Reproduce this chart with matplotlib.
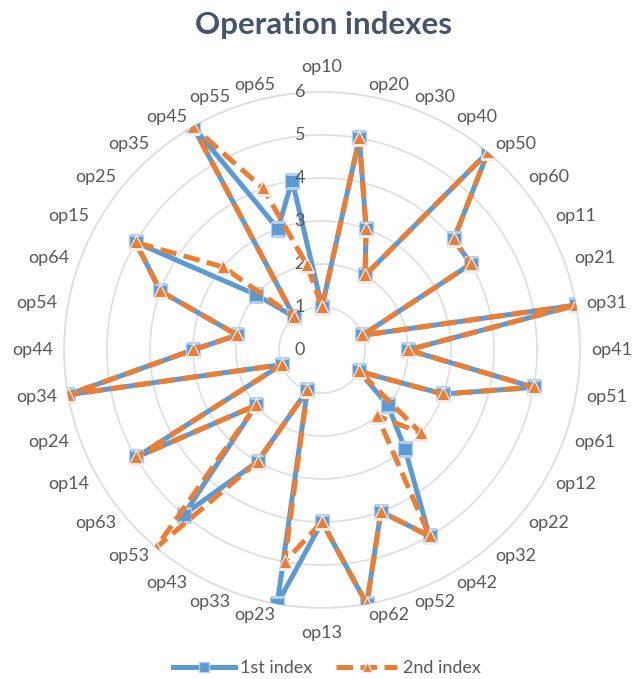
import numpy as np
import matplotlib
matplotlib.use("Agg")
import matplotlib.pyplot as plt
from matplotlib.transforms import offset_copy

plt.rcParams['font.family'] = ['Lato', 'DejaVu Sans']

# categories clockwise from the top
ops = ["op10", "op20", "op30", "op40", "op50", "op60",
       "op11", "op21", "op31", "op41", "op51", "op61",
       "op12", "op22", "op32", "op42", "op52", "op62",
       "op13", "op23", "op33", "op43", "op53", "op63",
       "op14", "op24", "op34", "op44", "op54", "op64",
       "op15", "op25", "op35", "op45", "op55", "op65"]
first_index = [1, 5, 3, 2, 6, 4, 4, 1, 6, 2, 5, 3,
               1, 2, 3, 5, 4, 6, 4, 6, 1, 3, 5, 2,
               5, 1, 6, 3, 2, 4, 5, 2, 1, 6, 3, 4]
second_index = [1, 5, 3, 2, 6, 4, 4, 1, 6, 2, 5, 3,
                1, 3, 2, 5, 4, 6, 4, 5, 1, 3, 6, 2,
                5, 1, 6, 3, 2, 4, 5, 3, 1, 6, 4, 2]
rings = [0, 1, 2, 3, 4, 5, 6]

blue = "#5B9BD5"
orange = "#ED7D31"
grey = "#595959"

fig = plt.figure(figsize=(6.35, 6.79), dpi=100)
ax = fig.add_axes([0.1008, 0.1046, 0.8126, 0.760], projection="polar")
ax.set_theta_zero_location("N")
ax.set_theta_direction(-1)

n = len(ops)
theta = np.linspace(0, 2 * np.pi, n, endpoint=False)
tt = np.append(theta, theta[0])

ax.plot(tt, np.append(first_index, first_index[0]), color=blue, lw=3.6,
        marker="s", ms=9.5, mfc=blue, mec="#B4D0EC", mew=0.9,
        label="1st index", zorder=3)
ax.plot(tt, np.append(second_index, second_index[0]), color=orange, lw=3.6,
        dashes=(3.3, 1.5), marker="^", ms=10, mfc=orange, mec="#EDEDED", mew=0.9,
        label="2nd index", zorder=4)

ax.set_ylim(0, 6)
ax.set_yticks(rings[1:])
ax.set_yticklabels([])
ax.set_xticks([])
ax.yaxis.grid(True, color="#DEDEDE", lw=1.2)
ax.xaxis.grid(False)
ax.spines["polar"].set_color("#DEDEDE")
ax.spines["polar"].set_linewidth(1.2)

# radial value labels, left of the vertical axis
tr = offset_copy(ax.transData, fig=fig, x=-17, y=0, units="dots")
for r in rings:
    ax.text(0, r, str(r), transform=tr, ha="right", va="center",
            fontsize=13, color=grey)

# category labels
for th, lab in zip(theta, ops):
    s, c = np.sin(th), np.cos(th)
    if abs(s) < 0.05:
        ha = "center"
        va = "bottom" if c > 0 else "top"
        rr = 6.4
    else:
        ha = "left" if s > 0 else "right"
        va = "center"
        rr = 6.25
    ax.text(th, rr, lab, ha=ha, va=va, fontsize=13, color=grey)

fig.text(0.509, 1 - 25 / 679, "Operation indexes", ha="center", va="center",
         fontsize=22.5, fontweight="bold", color="#44546A")

fig.legend(loc="center", bbox_to_anchor=(0.515, 0.016), ncol=2, frameon=False,
           fontsize=13, handlelength=3.4, columnspacing=1.3, labelcolor=grey,
           handletextpad=0.3, markerscale=0.7)

fig.savefig("out.png", dpi=100)
